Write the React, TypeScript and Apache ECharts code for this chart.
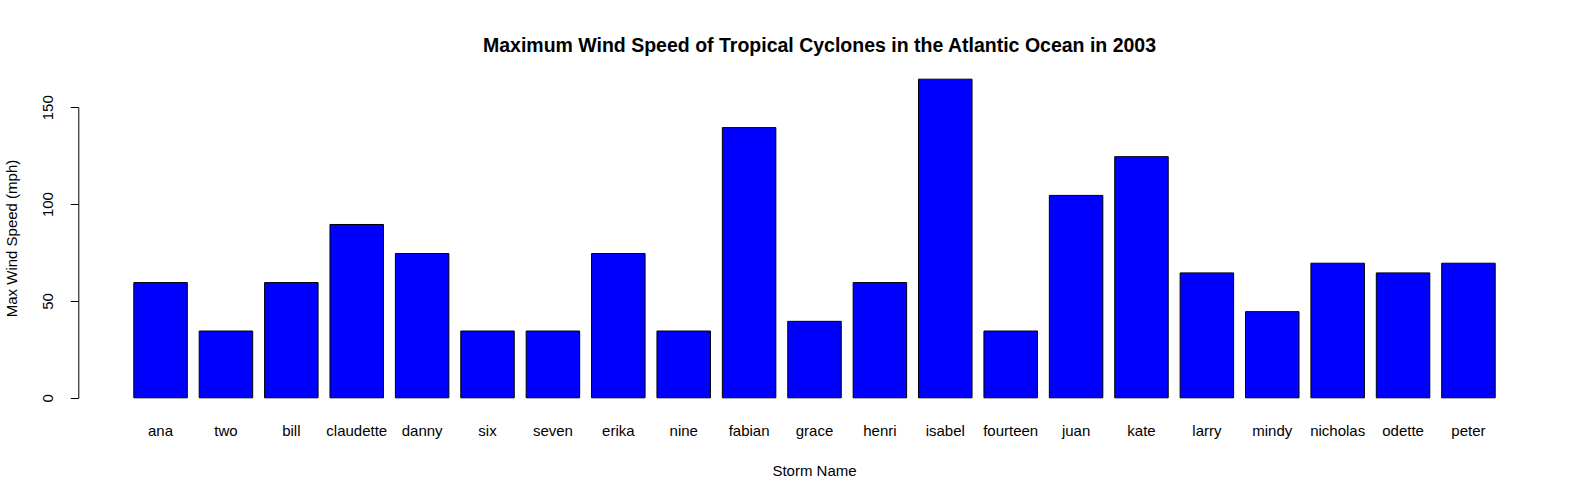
import React, { useEffect, useRef } from "react";
import * as echarts from "echarts";

const storms = [
  "ana", "two", "bill", "claudette", "danny", "six", "seven", "erika", "nine", "fabian",
  "grace", "henri", "isabel", "fourteen", "juan", "kate", "larry", "mindy", "nicholas", "odette", "peter",
];
const maxWind = [60, 35, 60, 90, 75, 35, 35, 75, 35, 140, 40, 60, 165, 35, 105, 125, 65, 45, 70, 65, 70];
const yTicks = [0, 50, 100, 150];
const yMin = -6.6;
const yMax = 171.6;

const FONT = "Liberation Sans, Arial, sans-serif";

export default function App() {
  const ref = useRef<HTMLDivElement>(null);
  useEffect(() => {
    if (!ref.current) return;
    const chart = echarts.init(ref.current, null, { renderer: "svg" });
    const gridLeft = 127.85;
    const axisOffset = 49.05;
    chart.setOption({
      animation: false,
      backgroundColor: "#ffffff",
      textStyle: { fontFamily: FONT },
      title: {
        text: "Maximum Wind Speed of Tropical Cyclones in the Atlantic Ocean in 2003",
        left: 814.5,
        textAlign: "center",
        top: 30,
        textStyle: { fontFamily: FONT, fontSize: 19.5, fontWeight: "bold", color: "#000" },
      },
      grid: {
        left: gridLeft,
        right: 88.85,
        top: 65.9,
        bottom: 88.9,
        containLabel: false,
        outerBoundsMode: "none",
      },
      xAxis: {
        type: "category",
        data: storms,
        axisLine: { show: false, onZero: false },
        axisTick: { show: false },
        axisLabel: { fontSize: 15, color: "#000", margin: 12, fontFamily: FONT, interval: 0 },
        name: "Storm Name",
        nameLocation: "middle",
        nameGap: 52,
        nameTextStyle: { fontSize: 15, color: "#000", fontFamily: FONT },
      },
      yAxis: {
        type: "value",
        min: yMin,
        max: yMax,
        offset: axisOffset,
        splitLine: { show: false },
        axisLine: { show: false },
        axisTick: { show: true, length: 8, lineStyle: { color: "#000" }, customValues: yTicks },
        axisLabel: {
          rotate: 90,
          fontSize: 15,
          color: "#000",
          margin: 24,
          fontFamily: FONT,
          customValues: yTicks,
        },
        name: "Max Wind Speed (mph)",
        nameLocation: "middle",
        nameGap: 60,
        nameTextStyle: { fontSize: 15, color: "#000", fontFamily: FONT },
      },
      series: [
        {
          type: "bar",
          data: maxWind,
          barWidth: 54.5,
          itemStyle: { color: "#0000ff", borderColor: "#000", borderWidth: 1 },
        },
      ],
    });
    const gridRect = (chart as any).getModel().getComponent("grid", 0).coordinateSystem.getRect();
    const x = gridRect.x - axisOffset;
    const y0 = chart.convertToPixel({ yAxisIndex: 0 }, yTicks[0]) as number;
    const y1 = chart.convertToPixel({ yAxisIndex: 0 }, yTicks[yTicks.length - 1]) as number;
    chart.setOption({
      graphic: [
        {
          type: "line",
          shape: { x1: x, y1: y0, x2: x, y2: y1 },
          style: { stroke: "#000", lineWidth: 1 },
        },
      ],
    });
    return () => chart.dispose();
  }, []);
  return (
    <div
      ref={ref}
      style={{ position: "fixed", left: 0, top: 0, width: 1590, height: 500 }}
    />
  );
}
